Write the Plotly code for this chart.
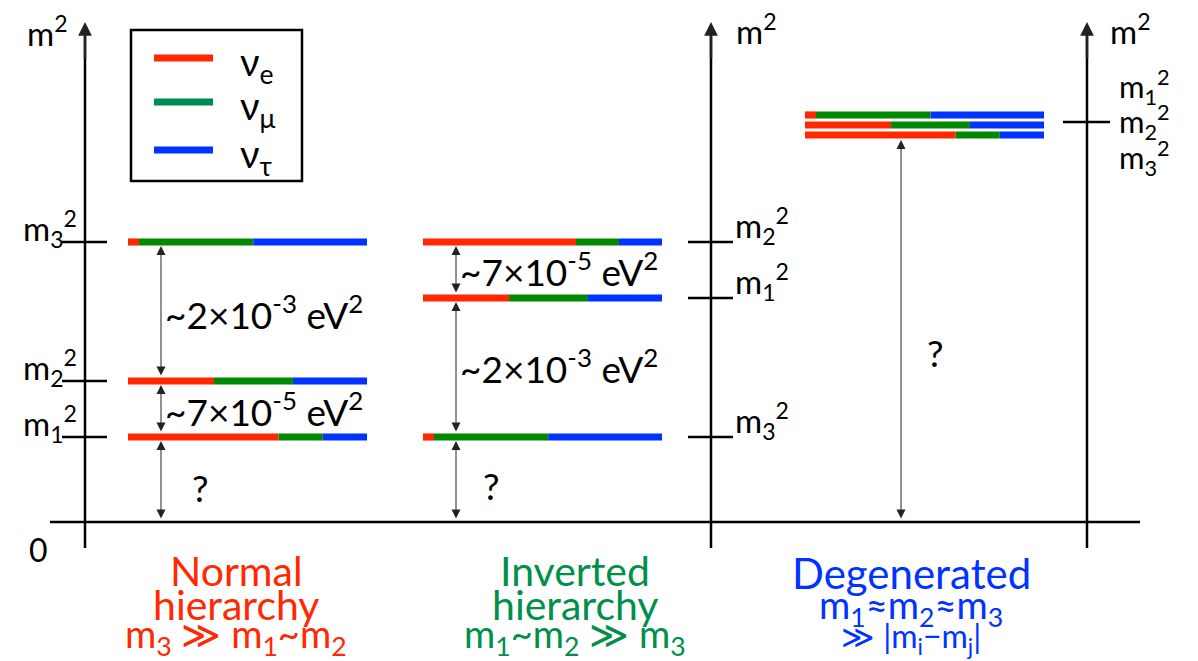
import plotly.graph_objects as go

# ---------------- data ----------------
flavour_names = ["ν<sub>e</sub>", "ν<sub>μ</sub>", "ν<sub>τ</sub>"]
bar_colors = ["rgb(255,40,0)", "rgb(0,136,0)", "rgb(0,51,255)"]
legend_colors = ["rgb(255,40,0)", "rgb(0,140,80)", "rgb(0,51,255)"]

# schematic m^2 heights (diagram units above zero) and flavour content
normal_labels = ["m<sub>1</sub><sup>2</sup>", "m<sub>2</sub><sup>2</sup>", "m<sub>3</sub><sup>2</sup>"]
normal_m2 = [85, 141, 280]
normal_mix = [[0.63, 0.185, 0.185], [0.36, 0.33, 0.31], [0.046, 0.478, 0.476]]

inverted_labels = ["m<sub>3</sub><sup>2</sup>", "m<sub>1</sub><sup>2</sup>", "m<sub>2</sub><sup>2</sup>"]
inverted_m2 = [85, 224, 280]
inverted_mix = [[0.046, 0.478, 0.476], [0.36, 0.33, 0.31], [0.64, 0.18, 0.18]]

degenerate_labels = ["m<sub>1</sub><sup>2</sup>", "m<sub>2</sub><sup>2</sup>", "m<sub>3</sub><sup>2</sup>"]
degenerate_m2 = [407, 397, 387]
degenerate_mix = [[0.046, 0.48, 0.474], [0.36, 0.33, 0.31], [0.63, 0.185, 0.185]]
degenerate_tick = 400
degenerate_label_pos = [435, 400, 364]

gap_large = "~2×10<sup>-3</sup> eV<sup>2</sup>"
gap_small = "~7×10<sup>-5</sup> eV<sup>2</sup>"

titles_normal = ["Normal", "hierarchy", "m<sub>3</sub> ≫ m<sub>1</sub>~m<sub>2</sub>"]
titles_inverted = ["Inverted", "hierarchy", "m<sub>1</sub>~m<sub>2</sub> ≫ m<sub>3</sub>"]
titles_degenerate = ["Degenerated", "m<sub>1</sub>≈m<sub>2</sub>≈m<sub>3</sub>", "≫ |m<sub>i</sub>−m<sub>j</sub>|"]

# ---------------- layout constants ----------------
W, H = 1198, 661
BASE = 522  # pixel row of zero


def Y(pix):
    return BASE - pix


FONT = "Lato, 'Noto Sans', sans-serif"
BAR_H = 3.6
BAR_W = 239
fig = go.Figure()
shapes = []
ann = []


def line(x0, y0, x1, y1, w=2.5, color="black"):
    shapes.append(dict(type="line", xref="x", yref="y", x0=x0, y0=y0, x1=x1, y1=y1,
                       line=dict(color=color, width=w)))


def text(x, y, s, size=30, color="black", xanchor="center", yanchor="middle"):
    ann.append(dict(x=x, y=y, xref="x", yref="y", text=s, showarrow=False,
                    font=dict(family=FONT, size=size, color=color),
                    xanchor=xanchor, yanchor=yanchor))


def arrow(x, y_from, y_to, both=True, w=1.0, head=2, size=1.0):
    ann.append(dict(x=x, y=y_to, ax=x, ay=y_from, xref="x", yref="y", axref="x", ayref="y",
                    text="", showarrow=True, arrowhead=head, startarrowhead=head,
                    arrowsize=size, startarrowsize=size,
                    arrowside="end+start" if both else "end",
                    arrowwidth=w, arrowcolor="#222"))


def bar(x0, level, mix):
    xs = x0
    for frac, col in zip(mix, bar_colors):
        xe = xs + frac * BAR_W
        shapes.append(dict(type="rect", xref="x", yref="y", x0=xs, x1=xe,
                           y0=level - BAR_H, y1=level + BAR_H,
                           fillcolor=col, line=dict(width=0), layer="above"))
        xs = xe


# axes
for ax_x in [85, 711, 1087]:
    line(ax_x, Y(548), ax_x, Y(34), w=2.5)
    arrow(ax_x, Y(60), Y(22), both=False, w=2.5, head=2, size=1.1)
line(50, 0, 1140, 0, w=2.5)

text(47, Y(31), "m<sup>2</sup>", size=33)
text(756, Y(29), "m<sup>2</sup>", size=33)
text(1130, Y(29), "m<sup>2</sup>", size=33)
text(38, Y(549), "0", size=32)

# normal hierarchy
NX = 128
for lvl, mix, lab in zip(normal_m2, normal_mix, normal_labels):
    bar(NX, lvl, mix)
    line(62, lvl, 107, lvl)
    text(50, lvl + 14, lab, size=33)
arrow(161, normal_m2[1] + 4, normal_m2[2] - 4, size=1.8)
arrow(161, normal_m2[0] + 4, normal_m2[1] - 4, size=1.8)
arrow(161, 2, normal_m2[0] - 4, size=1.8)
text(163, Y(312), gap_large, size=37, xanchor="left")
text(163, Y(409), gap_small, size=37, xanchor="left")
text(200, Y(487), "?", size=37)

# inverted hierarchy
IX = 423
for lvl, mix, lab in zip(inverted_m2, inverted_mix, inverted_labels):
    bar(IX, lvl, mix)
    line(688, lvl, 733, lvl)
    text(733, lvl + 17, lab, size=33, xanchor="left")
arrow(456, inverted_m2[1] + 4, inverted_m2[2] - 4, size=1.8)
arrow(456, inverted_m2[0] + 4, inverted_m2[1] - 4, size=1.8)
arrow(456, 2, inverted_m2[0] - 4, size=1.8)
text(458, Y(269), gap_small, size=37, xanchor="left")
text(458, Y(366), gap_large, size=37, xanchor="left")
text(491, Y(485), "?", size=37)

# degenerate
DX = 805
for lvl, mix in zip(degenerate_m2, degenerate_mix):
    bar(DX, lvl, mix)
line(1063, degenerate_tick, 1110, degenerate_tick)
for lab, pos in zip(degenerate_labels, degenerate_label_pos):
    text(1117, pos, lab, size=31, xanchor="left")
arrow(901, 2, degenerate_m2[2] - 5, size=1.8)
text(935, Y(352), "?", size=37)

# legend box
shapes.append(dict(type="rect", xref="x", yref="y", x0=131, x1=302, y0=Y(30), y1=Y(181),
                   line=dict(color="black", width=2.5), fillcolor="rgba(0,0,0,0)"))
for i, (name, col) in enumerate(zip(flavour_names, legend_colors)):
    yy = Y([58, 102, 150][i])
    line(154, yy, 213, yy, w=7, color=col)
    text(238, Y([64, 108, 156][i]), name, size=38, xanchor="left")

# titles
red_t, green_t, blue_t = "rgb(255,40,0)", "rgb(0,144,74)", "rgb(0,51,255)"
for i, (t, s) in enumerate(zip(titles_normal, [41, 41, 38])):
    text(236, Y([570, 604, 636][i]), t, size=s, color=red_t)
for i, (t, s) in enumerate(zip(titles_inverted, [41, 41, 38])):
    text(575, Y([570, 604, 636][i]), t, size=s, color=green_t)
for i, (t, s) in enumerate(zip(titles_degenerate, [42, 38, 32])):
    text(911, Y([573, 607, 638][i]), t, size=s, color=blue_t)

fig.update_layout(
    width=W, height=H, margin=dict(l=0, r=0, t=0, b=0),
    paper_bgcolor="white", plot_bgcolor="white",
    xaxis=dict(range=[0, W], visible=False, fixedrange=True),
    yaxis=dict(range=[BASE - H, BASE], visible=False, fixedrange=True),
    shapes=shapes, annotations=ann, showlegend=False,
)
fig.add_trace(go.Scatter(x=[0], y=[0], mode="markers", marker=dict(opacity=0), hoverinfo="skip"))
fig.write_html("out.html", config={"displayModeBar": False},
               post_script="document.body.style.margin='0px';document.body.style.overflow='hidden';")
